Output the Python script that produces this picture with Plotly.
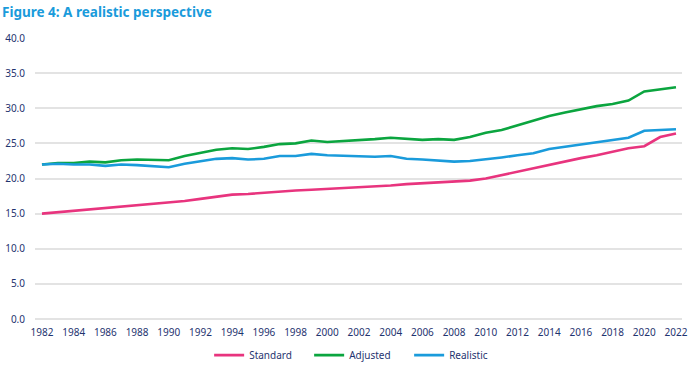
import plotly.graph_objects as go

years = list(range(1982, 2023))

standard = [15.0, 15.2, 15.3, 15.5, 15.8, 16.0, 16.2, 16.4, 16.5, 16.8,
            17.1, 17.4, 17.7, 17.8, 18.0, 18.1, 18.3, 18.4, 18.5, 18.7,
            18.8, 18.9, 19.0, 19.2, 19.3, 19.4, 19.5, 19.7, 20.0, 20.5,
            21.0, 21.5, 22.0, 22.4, 22.9, 23.3, 23.8, 24.3, 24.6, 25.9, 26.4]

adjusted = [22.0, 22.2, 22.2, 22.4, 22.3, 22.6, 22.7, 22.7, 22.6, 23.2,
            23.6, 24.1, 24.3, 24.2, 24.5, 24.9, 25.0, 25.4, 25.2, 25.3,
            25.5, 25.6, 25.8, 25.6, 25.5, 25.6, 25.5, 25.9, 26.5, 26.9,
            27.6, 28.2, 28.9, 29.4, 29.9, 30.3, 30.6, 31.1, 32.4, 32.7, 33.0]

realistic = [22.0, 22.1, 22.0, 22.0, 21.8, 22.0, 21.9, 21.8, 21.6, 22.1,
             22.4, 22.8, 22.9, 22.7, 22.8, 23.2, 23.2, 23.5, 23.3, 23.2,
             23.2, 23.1, 23.2, 22.8, 22.7, 22.6, 22.4, 22.5, 22.7, 23.0,
             23.3, 23.6, 24.2, 24.5, 24.9, 25.2, 25.4, 25.8, 26.8, 26.9, 27.0]

series_names = ["Standard", "Adjusted", "Realistic"]
series_colors = ["#E8347E", "#0BA53F", "#1A9BDB"]

fig = go.Figure()
for name, vals, col in zip(series_names, [standard, adjusted, realistic], series_colors):
    fig.add_trace(go.Scatter(x=years, y=vals, mode="lines", name=name,
                             line=dict(color=col, width=2.6)))

axis_font = dict(family="Noto Sans, Open Sans, sans-serif", size=10, color="#1F3470")

fig.update_layout(
    width=688, height=368,
    margin=dict(l=35, r=6, t=38, b=49, autoexpand=False),
    paper_bgcolor="white", plot_bgcolor="white",
    title=dict(text="<b>Figure 4: A realistic perspective</b>",
               font=dict(family="Noto Sans, Open Sans, sans-serif", size=13.5, color="#1A9BDB"),
               xref="container", yref="container",
               x=0.0, xanchor="left", y=0.967, yanchor="middle", pad=dict(l=2)),
    legend=dict(orientation="h", xref="container", yref="container",
                x=0.522, xanchor="center", y=0.035, yanchor="middle",
                entrywidth=55, entrywidthmode="pixels",
                font=axis_font, tracegroupgap=0),
    showlegend=True,
)
fig.update_xaxes(range=[1981.56, 2022.38], tickmode="linear", tick0=1982, dtick=2,
                 showgrid=False, zeroline=False, showline=False, automargin=False,
                 ticks="", ticklabelstandoff=6, tickfont=axis_font)
fig.update_yaxes(range=[0, 40], tickmode="linear", tick0=0, dtick=5, tickformat=".1f",
                 showgrid=True, gridcolor="#E3E3E3", gridwidth=1.5,
                 zeroline=True, zerolinecolor="#E3E3E3", zerolinewidth=1.5,
                 showline=False, automargin=False,
                 ticks="", ticklabelstandoff=9, tickfont=axis_font)

fig.write_html("out.html", config={"displayModeBar": False},
               post_script="document.body.style.margin='0';document.body.style.overflow='hidden';")
